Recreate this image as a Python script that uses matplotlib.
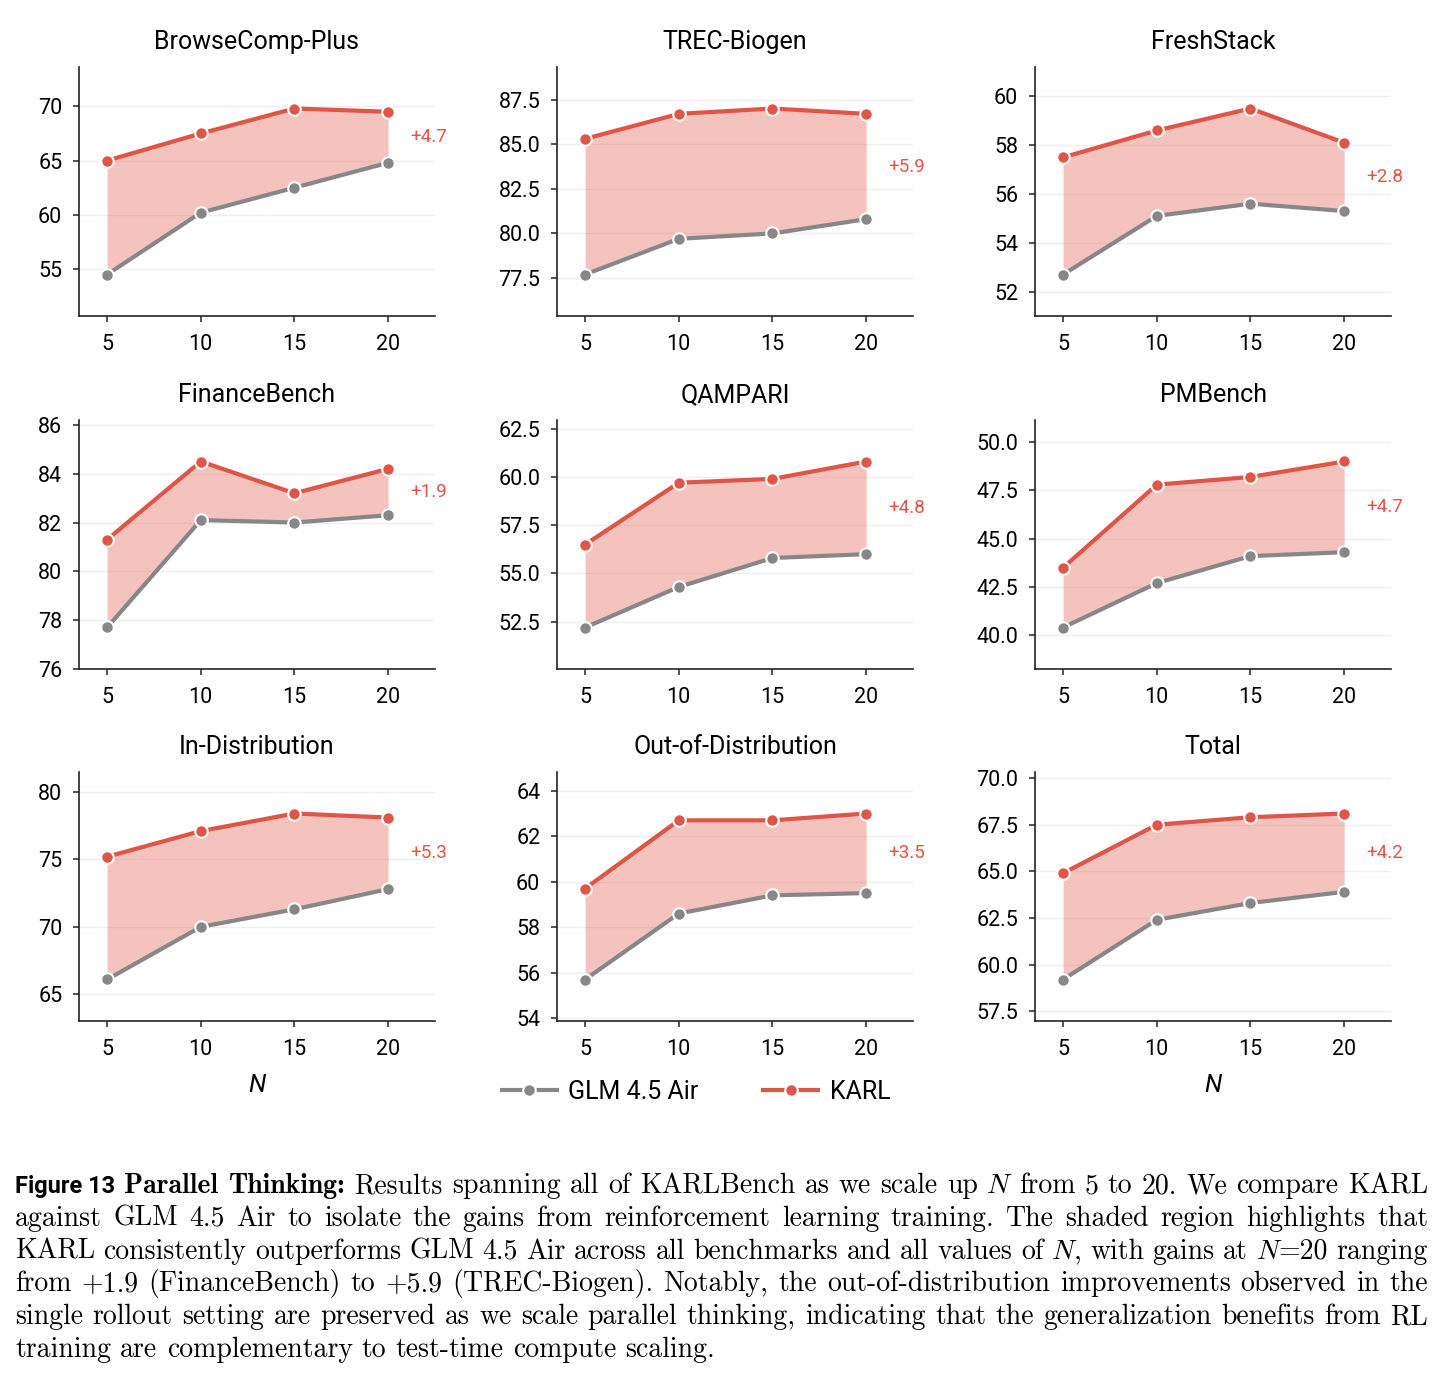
import matplotlib
matplotlib.use("Agg")
import matplotlib.pyplot as plt
from matplotlib.font_manager import FontProperties
from matplotlib.lines import Line2D
from matplotlib.ticker import MultipleLocator

plt.rcParams['font.family'] = ['Roboto', 'DejaVu Sans']

n_values = [5, 10, 15, 20]

titles = ['BrowseComp-Plus', 'TREC-Biogen', 'FreshStack',
          'FinanceBench', 'QAMPARI', 'PMBench',
          'In-Distribution', 'Out-of-Distribution', 'Total']

glm_scores = [
    [54.5, 60.2, 62.5, 64.8],
    [77.7, 79.7, 80.0, 80.8],
    [52.7, 55.1, 55.6, 55.3],
    [77.7, 82.1, 82.0, 82.3],
    [52.2, 54.3, 55.8, 56.0],
    [40.4, 42.7, 44.1, 44.3],
    [66.1, 70.0, 71.3, 72.8],
    [55.7, 58.6, 59.4, 59.5],
    [59.2, 62.4, 63.3, 63.9],
]

karl_scores = [
    [65.0, 67.5, 69.8, 69.5],
    [85.3, 86.7, 87.0, 86.7],
    [57.5, 58.6, 59.5, 58.1],
    [81.3, 84.5, 83.2, 84.2],
    [56.5, 59.7, 59.9, 60.8],
    [43.5, 47.8, 48.2, 49.0],
    [75.2, 77.1, 78.4, 78.1],
    [59.7, 62.7, 62.7, 63.0],
    [64.9, 67.5, 67.9, 68.1],
]

y_tick_steps = [5, 2.5, 2, 2, 2.5, 2.5, 5, 2, 2.5]

caption_lines = [
    "@Figure~13@ #Parallel Thinking:# Results spanning all of KARLBench as we scale up *N* from 5 to 20. We compare KARL",
    "against GLM 4.5 Air to isolate the gains from reinforcement learning training. The shaded region highlights that",
    "KARL consistently outperforms GLM 4.5 Air across all benchmarks and all values of *N*, with gains at *N*=20 ranging",
    "from +1.9 (FinanceBench) to +5.9 (TREC-Biogen). Notably, the out-of-distribution improvements observed in the",
    "single rollout setting are preserved as we scale parallel thinking, indicating that the generalization benefits from RL",
    "training are complementary to test-time compute scaling.",
]

GRAY = '#878787'
RED = '#E15546'

W, H = 1443, 1377
fig = plt.figure(figsize=(W / 100, H / 100), dpi=100)

col_left = [79, 557, 1035]
row_top = [67, 420, 772]
ax_w, ax_h = 356, 249

for i, title in enumerate(titles):
    r, c = divmod(i, 3)
    ax = fig.add_axes([col_left[c] / W, 1 - (row_top[r] + ax_h) / H, ax_w / W, ax_h / H])
    glm = glm_scores[i]
    karl = karl_scores[i]

    ax.fill_between(n_values, glm, karl, color=RED, alpha=0.35, linewidth=0, zorder=1)
    ax.plot(n_values, glm, color=GRAY, lw=3, marker='o', ms=9,
            mec='white', mew=1.5, zorder=3)
    ax.plot(n_values, karl, color=RED, lw=3, marker='o', ms=9,
            mec='white', mew=1.5, zorder=4)

    lo, hi = min(glm), max(karl)
    pad = 0.25 * (hi - lo)
    ax.set_ylim(lo - pad, hi + pad)
    ax.set_xlim(3.5, 22.5)
    ax.set_xticks(n_values)
    ax.yaxis.set_major_locator(MultipleLocator(y_tick_steps[i]))

    gap = karl[-1] - glm[-1]
    ax.text(n_values[-1] + 1.2, (karl[-1] + glm[-1]) / 2, f'+{gap:.1f}',
            color=RED, fontsize=13.5, ha='left', va='center', clip_on=False)

    ax.set_title(title, fontsize=18, pad=13)
    ax.grid(axis='y', color='#efefef', lw=1)
    ax.set_axisbelow(True)
    for side in ['top', 'right']:
        ax.spines[side].set_visible(False)
    for side in ['left', 'bottom']:
        ax.spines[side].set_linewidth(1.2)
        ax.spines[side].set_color('#222222')
    ax.tick_params(labelsize=15.5, length=4, width=1.1, pad=8, color='#222222')
    ax.tick_params(axis='x', pad=9)

    if i in (6, 8):
        ax.set_xlabel('N', fontsize=18, fontstyle='italic', labelpad=9)

handles = [
    Line2D([], [], color=GRAY, lw=3, marker='o', ms=9, mec='white', mew=1.5),
    Line2D([], [], color=RED, lw=3, marker='o', ms=9, mec='white', mew=1.5),
]
fig.legend(handles, ['GLM 4.5 Air', 'KARL'], loc='center', ncol=2,
           bbox_to_anchor=(696 / W, 1 - 1092 / H), frameon=False,
           fontsize=18, handlelength=2.2, columnspacing=2.6, handletextpad=0.45)

# caption, justified word by word
fonts = {
    'rm': FontProperties(family='cmr10', size=20),
    'bf': FontProperties(family='cmb10', size=20),
    'it': FontProperties(family='cmmi10', size=20),
    'sf': FontProperties(family='Roboto', weight='bold', size=17),
}
renderer = fig.canvas.get_renderer()


def text_width(s, fp):
    t = fig.text(0, 0, s, fontproperties=fp)
    w = t.get_window_extent(renderer).width
    t.remove()
    return w


def parse_words(line, state):
    words = []
    for raw in line.split(' '):
        segs, buf = [], ''
        for ch in raw:
            if ch in '@#*':
                if buf:
                    segs.append((buf.replace('~', ' '), state[0]))
                    buf = ''
                key = {'@': 'sf', '#': 'bf', '*': 'it'}[ch]
                state[0] = 'rm' if state[0] == key else key
            else:
                buf += ch
        if buf:
            segs.append((buf.replace('~', ' '), state[0]))
        words.append(segs)
    return words


cap_left, cap_right = 15, 1428
baseline0, line_gap = 1193, 32.8
space_w = text_width('x x', fonts['rm']) - text_width('xx', fonts['rm'])
state = ['rm']
for li, line in enumerate(caption_lines):
    words = parse_words(line, state)
    widths = [[text_width(s, fonts[f]) for s, f in w] for w in words]
    total = sum(sum(ws) for ws in widths)
    if li < len(caption_lines) - 1:
        gap = (cap_right - cap_left - total) / (len(words) - 1)
    else:
        gap = space_w
    x = cap_left
    y = 1 - (baseline0 + li * line_gap) / H
    for w, ws in zip(words, widths):
        for (s, f), sw in zip(w, ws):
            fig.text(x / W, y, s, fontproperties=fonts[f], va='baseline', ha='left')
            x += sw
        x += gap

fig.savefig('out.png', dpi=100)
